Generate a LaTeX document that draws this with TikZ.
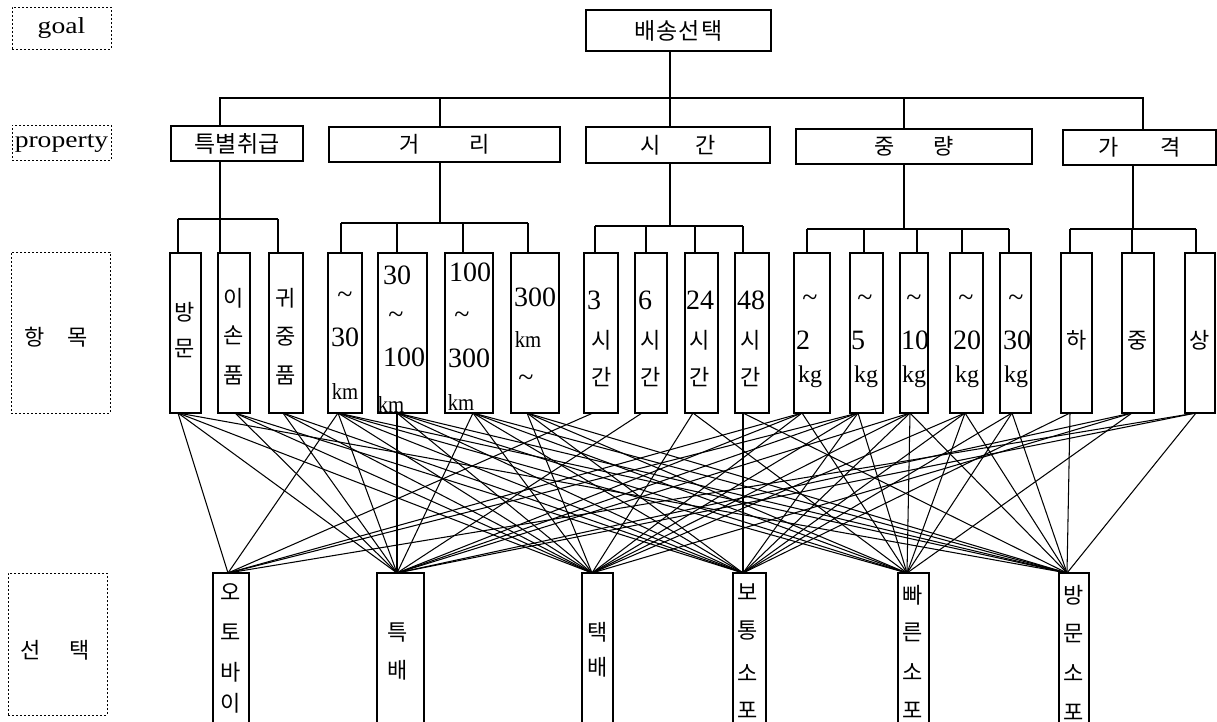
\documentclass[tikz,border=0pt]{standalone}
\usepackage{fontspec}
\setmainfont{Liberation Serif}
\newfontfamily\kr{Noto Sans CJK KR}
\newfontfamily\wide[FakeStretch=1.2]{Liberation Serif}
\newfontfamily\narrow[FakeStretch=0.9]{Liberation Serif}
\newcommand\Rb[6]{\node[#6, minimum width={#4-#2}, minimum height={#5-#3}] (#1) at ({(#2+#4)/2},{(#3+#5)/2}) {};}
\begin{document}
\begin{tikzpicture}[x=1pt,y=-1pt,
 bx/.style={draw, line width=1.4pt, inner sep=0pt, outer sep=0pt},
 dbx/.style={draw, line width=0.9pt, dash pattern=on 2.4pt off 1.6pt, inner sep=0pt, outer sep=0pt},
 ln/.style={line width=1.2pt},
 ed/.style={line width=1.05pt},
 K/.style={font=\kr\fontsize{22}{22}\selectfont, inner sep=0pt, text height=18.2pt, text depth=1.6pt},
 KB/.style={font=\kr\fontsize{23}{23}\selectfont, inner sep=0pt, text height=19pt, text depth=1.6pt},
 N/.style={font=\fontsize{28}{28}\selectfont, inner sep=0pt, text height=18.5pt, text depth=0pt},
 Tl/.style={font=\fontsize{28}{28}\selectfont, inner sep=0pt, text height=16pt, text depth=0pt},
 KM/.style={font=\narrow\fontsize{23}{23}\selectfont, inner sep=0pt, text height=15pt, text depth=0pt},
 KG/.style={font=\fontsize{24}{24}\selectfont, inner sep=0pt, text height=16pt, text depth=5pt},
 L/.style={font=\wide\fontsize{23}{23}\selectfont, inner sep=0pt, text height=15.5pt, text depth=5pt},
]
\useasboundingbox (0,0) rectangle (1217,722);
\fill[white] (0,0) rectangle (1217,722);

% left dashed labels
\node[dbx, L, minimum width=99pt, minimum height=42pt] (lg) at (61.5,28) {goal};
\node[dbx, L, minimum width=99pt, minimum height=35pt] (lp) at (61.5,142.5) {property};
\Rb{li}{11}{252}{110}{413}{dbx}
\node[K] (lit) at (56.5,337) {항\hspace{23pt}목};
\Rb{lc}{8}{573}{107}{715}{dbx}
\node[K] (lct) at (55,650) {선\hspace{28.5pt}택};

% goal
\node[bx, KB, minimum width=185pt, minimum height=41pt] (g) at (678.5,30.5) {배\hspace{1pt}송\hspace{1pt}선\hspace{1pt}택};

% properties
\node[bx, KB, minimum width=132pt, minimum height=35pt] (p1) at (237,143.5) {특별취급};
\node[bx, K, minimum width=231pt, minimum height=35pt] (p2) at (444.5,144.5) {거\hspace{50pt}리};
\node[bx, K, minimum width=184pt, minimum height=36pt] (p3) at (678,145) {시\hspace{35pt}간};
\node[bx, K, minimum width=236pt, minimum height=35pt] (p4) at (914,146.5) {중\hspace{39pt}량};
\node[bx, K, minimum width=153pt, minimum height=35pt] (p5) at (1139.5,147.5) {가\hspace{41pt}격};

% items
\foreach \n/\a/\b in {1/170/201, 2/218/250, 3/269/303, 4/328/362, 5/378/427, 6/445/493, 7/511/559,
  8/584/618, 9/635/667, 10/685/718, 11/735/769, 12/794/830, 13/850/883, 14/900/928, 15/950/983,
  16/1000/1031, 17/1061/1092, 18/1122/1154, 19/1185/1215}
  {\Rb{i\n}{\a}{253}{\b}{413}{bx}}

% choices
\foreach \n/\a/\b in {1/213/249, 2/377/424, 3/582/613, 4/733/766, 5/898/929, 6/1059/1089}
  {\Rb{c\n}{\a}{573}{\b}{740}{bx}}

% tree connectors
\coordinate (T1) at (220,98); \coordinate (T2) at (440,98); \coordinate (T3) at (670,98);
\coordinate (T4) at (904,98); \coordinate (T5) at (1143,98);
\draw[ln] (T1 |- p1.north) -- (T1) -- (T5) -- (T5 |- p5.north);
\draw[ln] (T2) -- (T2 |- p2.north);
\draw[ln] (T4) -- (T4 |- p4.north);
\draw[ln] (T3 |- g.south) -- (T3 |- p3.north);

\foreach \n/\x/\y in {1/178/219, 2/220/219, 3/278/219, 4/341/223, 5/397/223, 6/463/223, 7/528/223,
  8/595/226, 9/646/226, 10/695/226, 11/743/226, 12/807/229, 13/864/229, 14/917/229, 15/962/229,
  16/1009/229, 17/1070/229, 18/1132/229, 19/1196/229}
  {\coordinate (u\n) at (\x,\y); \draw[ln] (u\n) -- (u\n |- i\n.north);}
\draw[ln] (u1) -- (u3); \draw[ln] (u4) -- (u7); \draw[ln] (u8) -- (u11);
\draw[ln] (u12) -- (u16); \draw[ln] (u17) -- (u19);
\coordinate (v1) at (220,219); \coordinate (v2) at (440,223); \coordinate (v3) at (670,226);
\coordinate (v4) at (904,229); \coordinate (v5) at (1133,229);
\foreach \n in {1,...,5} {\draw[ln] (v\n |- p\n.south) -- (v\n);}

% item labels
\node[K] (a1a) at (185,312) {방}; \node[K] (a1b) at (185,348) {문};
\node[K] (a2a) at (234,298) {이}; \node[K] (a2b) at (234,335) {손}; \node[K] (a2c) at (234,375) {품};
\node[K] (a3a) at (286,298) {귀}; \node[K] (a3b) at (286,336) {중}; \node[K] (a3c) at (286,375) {품};
\node[Tl] (a4a) at (345,295) {\textasciitilde}; \node[N] (a4b) at (345,337) {30}; \node[KM] (a4c) at (345,392) {km};
\node[N] (a5a) at (397,275) {30}; \node[Tl] (a5b) at (396,315) {\textasciitilde}; \node[N] (a5c) at (404,357) {100}; \node[KM] (a5d) at (391,405) {km};
\node[N] (a6a) at (470,272) {100}; \node[Tl] (a6b) at (462,315) {\textasciitilde}; \node[N] (a6c) at (469,358) {300}; \node[KM] (a6d) at (461,403) {km};
\node[N] (a7a) at (535,297) {300}; \node[KM] (a7b) at (528,340) {km}; \node[Tl] (a7c) at (526,378) {\textasciitilde};
\node[N] (a8a) at (594,300) {3}; \node[K] (a8b) at (602,340) {시}; \node[K] (a8c) at (602,377) {간};
\node[N] (a9a) at (645,300) {6}; \node[K] (a9b) at (651,340) {시}; \node[K] (a9c) at (651,377) {간};
\node[N] (a10a) at (700,300) {24}; \node[K] (a10b) at (700,340) {시}; \node[K] (a10c) at (700,377) {간};
\node[N] (a11a) at (751,300) {48}; \node[K] (a11b) at (751,340) {시}; \node[K] (a11c) at (751,377) {간};
\node[Tl] (a12a) at (810,298) {\textasciitilde}; \node[N] (a12b) at (803,340) {2}; \node[KG] (a12c) at (810,377) {kg};
\node[Tl] (a13a) at (865,298) {\textasciitilde}; \node[N] (a13b) at (858,340) {5}; \node[KG] (a13c) at (866,377) {kg};
\node[Tl] (a14a) at (914,298) {\textasciitilde}; \node[N] (a14b) at (915,340) {10}; \node[KG] (a14c) at (914,377) {kg};
\node[Tl] (a15a) at (966,298) {\textasciitilde}; \node[N] (a15b) at (967,340) {20}; \node[KG] (a15c) at (967,377) {kg};
\node[Tl] (a16a) at (1016,298) {\textasciitilde}; \node[N] (a16b) at (1017,340) {30}; \node[KG] (a16c) at (1016,377) {kg};
\node[K] (a17) at (1077,340) {하}; \node[K] (a18) at (1138,340) {중}; \node[K] (a19) at (1200,340) {상};

% choice labels
\node[K] (b1a) at (231,592) {오}; \node[K] (b1b) at (231,632) {토}; \node[K] (b1c) at (231,672) {바}; \node[K] (b1d) at (231,703) {이};
\node[K] (b2a) at (398,632) {특}; \node[K] (b2b) at (398,670) {배};
\node[K] (b3a) at (598,632) {택}; \node[K] (b3b) at (598,667) {배};
\node[K] (b4a) at (748,592) {보}; \node[K] (b4b) at (748,630) {통}; \node[K] (b4c) at (748,673) {소}; \node[K] (b4d) at (748,710) {포};
\node[K] (b5a) at (913,595) {빠}; \node[K] (b5b) at (913,632) {른}; \node[K] (b5c) at (913,672) {소}; \node[K] (b5d) at (913,710) {포};
\node[K] (b6a) at (1074,595) {방}; \node[K] (b6b) at (1074,633) {문}; \node[K] (b6c) at (1074,673) {소}; \node[K] (b6d) at (1074,712) {포};

% edge end points
\foreach \n/\d in {1/-7.5, 2/1, 3/-3, 4/-7, 5/-5.5, 6/4, 7/-8, 8/-8, 9/-9, 10/-8.5, 11/-9, 12/-10, 13/-8.5,
  14/-4, 15/-1.5, 16/-3.5, 17/-6.5, 18/-6, 19/-4}
  {\coordinate (s\n) at ([xshift=\d pt]i\n.south);}
\foreach \n/\d in {1/-3, 2/-3.5, 3/-5.5, 4/-6.5, 5/-6.5, 6/-7}
  {\coordinate (t\n) at ([xshift=\d pt]c\n.north);}

\foreach \s/\t in {1/1, 4/1, 8/1, 12/1, 13/1, 19/1,
  1/2, 2/2, 3/2, 4/2, 5/2, 6/2, 9/2, 12/2, 13/2, 14/2, 18/2, 19/2,
  1/3, 2/3, 3/3, 4/3, 5/3, 6/3, 7/3, 10/3, 12/3, 13/3, 14/3, 15/3, 18/3,
  2/4, 3/4, 4/4, 5/4, 6/4, 7/4, 11/4, 13/4, 14/4, 15/4, 16/4, 17/4,
  4/5, 5/5, 6/5, 7/5, 10/5, 12/5, 13/5, 14/5, 15/5, 16/5, 18/5,
  1/6, 4/6, 5/6, 6/6, 7/6, 11/6, 14/6, 15/6, 16/6, 17/6, 19/6}
  {\draw[ed] (s\s) -- (t\t);}
\end{tikzpicture}
\end{document}
